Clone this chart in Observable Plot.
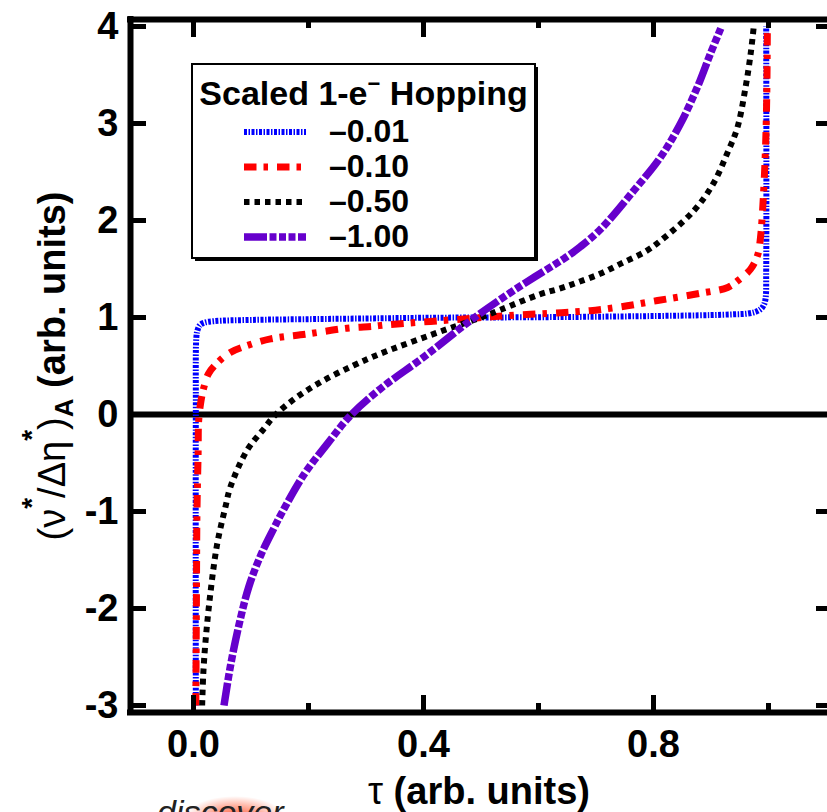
<!DOCTYPE html>
<html><head><meta charset="utf-8">
<script src="https://cdn.jsdelivr.net/npm/d3@7"></script>
<script src="https://cdn.jsdelivr.net/npm/@observablehq/plot@0.6"></script>
<style>
html,body{margin:0;padding:0;background:#fff;}
#chart{position:relative;width:827px;height:812px;overflow:hidden;}
</style></head><body><div id="chart"></div>
<script>
// ---- data ----
const seriesLabels = ["\u20130.01", "\u20130.10", "\u20130.50", "\u20131.00"];
const legendTitle = "Scaled 1-e";

const tauBlue = [0.004,0.004,0.005,0.007,0.011,0.018,0.035,0.1,0.2,0.3,0.4,0.5,0.6,0.7,0.8,0.9,0.94,0.963,0.978,0.987,0.992,0.995,0.996,0.996];
const vBlue   = [-3.0,0.0,0.8,0.87,0.92,0.945,0.962,0.975,0.983,0.99,0.997,1.0,1.003,1.008,1.015,1.025,1.033,1.04,1.06,1.09,1.13,1.2,1.5,4.0];

const tauRed = [0.004,0.005,0.006,0.008,0.009,0.013,0.018,0.026,0.041,0.064,0.093,0.134,0.198,0.267,0.313,0.337,0.47,0.55,0.64,0.69,0.743,0.807,0.882,0.929,0.951,0.969,0.981,0.986,0.991,0.995,0.997,0.998];
const vRed   = [-3.0,-2.0,-1.0,-0.4,-0.06,0.14,0.28,0.42,0.53,0.64,0.71,0.78,0.83,0.89,0.91,0.925,0.985,1.02,1.05,1.07,1.11,1.175,1.25,1.31,1.40,1.5,1.64,1.82,2.24,2.79,3.3,4.0];

const tauBlack = [0.015,0.017,0.021,0.030,0.041,0.056,0.064,0.093,0.122,0.143,0.18,0.226,0.278,0.322,0.441,0.5,0.534,0.603,0.638,0.667,0.707,0.745,0.786,0.812,0.87,0.904,0.928,0.946,0.96,0.969,0.974];
const vBlack   = [-3.0,-2.67,-2.33,-1.81,-1.34,-0.94,-0.75,-0.37,-0.15,0.0,0.18,0.35,0.505,0.62,0.88,1.0,1.08,1.24,1.30,1.36,1.45,1.56,1.68,1.79,2.10,2.38,2.69,2.96,3.37,3.72,3.98];

const tauPurple = [0.053,0.064,0.079,0.096,0.117,0.140,0.153,0.192,0.233,0.273,0.325,0.40,0.482,0.557,0.65,0.673,0.708,0.766,0.812,0.847,0.876,0.899,0.917];
const vPurple   = [-3.0,-2.6,-2.17,-1.78,-1.45,-1.17,-1.02,-0.62,-0.30,-0.01,0.265,0.59,0.97,1.28,1.63,1.73,1.91,2.31,2.65,3.0,3.37,3.72,3.98];

const xDomain = [-0.1096, 1.1026];
const yDomain = [-3.072, 4.072];
const xMajorTicks = [0, 0.4, 0.8];
const xMinorTicks = [0.2, 0.6, 1.0];
const yTicks = [-3, -2, -1, 0, 1, 2, 3, 4];

// ---- build table ----
const seriesTau = [tauBlue, tauRed, tauBlack, tauPurple];
const seriesV = [vBlue, vRed, vBlack, vPurple];
const rows = [];
seriesTau.forEach((taus, i) => taus.forEach((t, j) => rows.push({series: seriesLabels[i], tau: t, v: seriesV[i][j]})));

const styles = [
  {stroke: "#0000ff", w: 6, dash: "3,1.5,1.5,1.5"},
  {stroke: "#ff0000", w: 7, dash: "12.5,7,4.5,9"},
  {stroke: "#000000", w: 6, dash: "5.5,5"},
  {stroke: "#6600cc", w: 7.5, dash: "23,2.5,7,2.5,7,2.5,7,2.5"}
];

const FONT = "'Liberation Sans', Arial, Helvetica, sans-serif";

const plot = Plot.plot({
  width: 827, height: 812,
  marginLeft: 130, marginTop: 19, marginBottom: 100, marginRight: 0,
  style: {fontFamily: FONT, fontSize: "38px", fontWeight: "bold", color: "#000", background: "#fff"},
  x: {domain: xDomain},
  y: {domain: yDomain},
  marks: [
    Plot.ruleY([0], {strokeWidth: 6, stroke: "#000"}),
    ...styles.map((s, i) => Plot.line(rows.filter(r => r.series === seriesLabels[i]), {
      x: "tau", y: "v", stroke: s.stroke, strokeWidth: s.w, strokeDasharray: s.dash,
      strokeLinecap: "butt", strokeLinejoin: "round", curve: "catmull-rom"
    })),
    Plot.ruleX([xDomain[0]], {strokeWidth: 6, strokeLinecap: "square"}),
    Plot.ruleY([yDomain[0], yDomain[1]], {strokeWidth: 6, strokeLinecap: "square"}),
    Plot.axisX(xMajorTicks, {anchor: "bottom", tickSize: 0, tickPadding: 18, tickFormat: d => d.toFixed(1), label: null}),
    Plot.axisX(xMajorTicks, {anchor: "bottom", tickSize: -17, strokeWidth: 5, tickFormat: () => "", label: null}),
    Plot.axisX(xMinorTicks, {anchor: "bottom", tickSize: -9, strokeWidth: 5, tickFormat: () => "", label: null}),
    Plot.axisX(xMajorTicks, {anchor: "top", tickSize: -17, strokeWidth: 5, tickFormat: () => "", label: null}),
    Plot.axisX(xMinorTicks, {anchor: "top", tickSize: -8, strokeWidth: 5, tickFormat: () => "", label: null}),
    Plot.axisY(yTicks, {anchor: "left", tickSize: 0, tickPadding: 12, tickFormat: d => String(d), label: null}),
    Plot.axisY(yTicks, {anchor: "left", tickSize: -16, strokeWidth: 5, tickFormat: () => "", label: null}),
    Plot.axisY(yTicks, {anchor: "right", tickSize: -12, strokeWidth: 5, tickFormat: () => "", label: null})
  ]
});
document.getElementById("chart").appendChild(plot);

const svg = d3.select(plot);
svg.attr("overflow", "hidden");

// axis titles
const xt = svg.append("text").attr("x", 479).attr("y", 804).attr("text-anchor", "middle")
  .attr("font-size", 38).attr("font-weight", "bold").attr("fill", "#000");
xt.append("tspan").attr("font-weight", "normal").text("\u03c4");
xt.append("tspan").text(" (arb. units)");

const yt = svg.append("text").attr("transform", "translate(65,366) rotate(-90)").attr("text-anchor", "middle")
  .attr("font-size", 38).attr("font-weight", "bold").attr("fill", "#000");
yt.append("tspan").attr("font-weight", "normal").text("(\u03bd");
yt.append("tspan").attr("dy", -24).attr("font-size", 28).text("*");
yt.append("tspan").attr("dy", 24).attr("font-weight", "normal").text("/\u0394\u03b7");
yt.append("tspan").attr("dy", -24).attr("font-size", 28).text("*");
yt.append("tspan").attr("dy", 24).attr("font-weight", "normal").text(")");
yt.append("tspan").attr("dy", 8).attr("font-size", 26).text("A");
yt.append("tspan").attr("dy", -8).text(" (arb. units)");

// legend
const lg = svg.append("g");
lg.append("rect").attr("x", 195).attr("y", 67).attr("width", 343).attr("height", 194).attr("fill", "#000");
lg.append("rect").attr("x", 192).attr("y", 64).attr("width", 343).attr("height", 194)
  .attr("fill", "#fff").attr("stroke", "#000").attr("stroke-width", 2);
const tt = lg.append("text").attr("x", 363.5).attr("y", 105).attr("text-anchor", "middle")
  .attr("font-size", 34).attr("font-weight", "bold");
tt.append("tspan").text(legendTitle);
tt.append("tspan").attr("dy", -14).attr("font-size", 22).text("\u2212");
tt.append("tspan").attr("dy", 14).text(" Hopping");
const lineYs = [132, 167, 202, 237];
styles.forEach((s, i) => {
  lg.append("line").attr("x1", 244).attr("x2", 306).attr("y1", lineYs[i]).attr("y2", lineYs[i])
    .attr("stroke", s.stroke).attr("stroke-width", s.w).attr("stroke-dasharray", s.dash);
  lg.append("text").attr("x", 329).attr("y", lineYs[i] + 10).attr("text-anchor", "start")
    .attr("font-size", 32).attr("font-weight", "bold").text(seriesLabels[i]);
});

// watermark fragment at bottom
const defs = svg.append("defs");
const rg = defs.append("radialGradient").attr("id", "glow");
rg.append("stop").attr("offset", "0%").attr("stop-color", "#ff3a10").attr("stop-opacity", 0.9);
rg.append("stop").attr("offset", "100%").attr("stop-color", "#ff3a10").attr("stop-opacity", 0);
svg.append("ellipse").attr("cx", 235).attr("cy", 818).attr("rx", 50).attr("ry", 22).attr("fill", "url(#glow)");
svg.append("text").attr("x", 157).attr("y", 824).attr("text-anchor", "start").attr("font-size", 34)
  .attr("font-style", "italic").attr("font-weight", "normal").attr("fill", "#222").text("discover");
</script></body></html>
